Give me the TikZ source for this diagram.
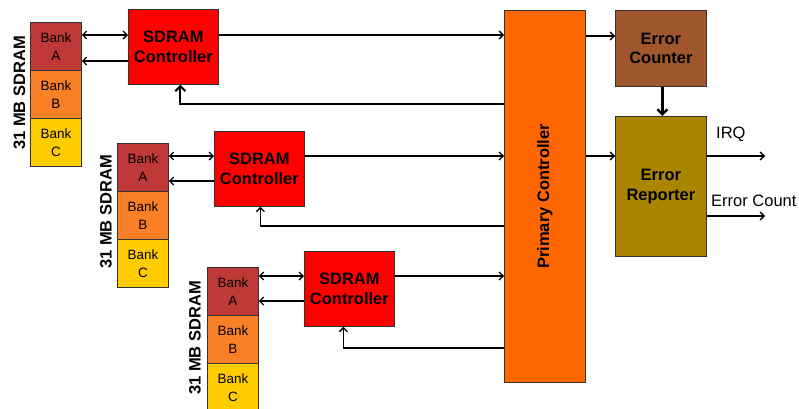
\documentclass[tikz,border=0pt]{standalone}
\usepackage{fontspec}
\setmainfont{Liberation Sans}
\usetikzlibrary{arrows.meta}
\definecolor{bankA}{RGB}{192,57,57}
\definecolor{bankB}{RGB}{250,128,40}
\definecolor{bankC}{RGB}{255,204,0}
\definecolor{ctrlred}{RGB}{255,0,0}
\definecolor{primcol}{RGB}{255,102,0}
\definecolor{errcol}{RGB}{160,87,45}
\definecolor{repcol}{RGB}{170,134,0}
\definecolor{edge}{RGB}{51,51,51}
\begin{document}
\begin{tikzpicture}[x=1pt,y=-1pt,
  bankbox/.style={draw=edge,line width=0.8pt,minimum width=51pt,minimum height=48pt,inner sep=0pt,anchor=north west,align=center,font=\fontsize{13.5}{18}\selectfont},
  ctrlbox/.style={draw=edge,line width=0.8pt,fill=ctrlred,minimum width=90pt,minimum height=75pt,inner sep=0pt,anchor=north west,align=center,font=\bfseries\fontsize{16.5}{19.5}\selectfont},
  blk/.style={draw=edge,line width=0.8pt,inner sep=0pt,anchor=north west,align=center,font=\bfseries\fontsize{16.5}{19.5}\selectfont},
  memlabel/.style={rotate=90,font=\bfseries\fontsize{16.5}{19.5}\selectfont},
  plain/.style={font=\fontsize{16.5}{19.5}\selectfont,anchor=west,inner sep=0pt},
  arr/.style={line width=1.3pt,-{Straight Barb[length=4pt,width=8pt]}},
  barr/.style={line width=1.3pt,{Straight Barb[length=4pt,width=8pt]}-{Straight Barb[length=4pt,width=8pt]}},
  tarr/.style={line width=2.4pt,-{Straight Barb[length=5pt,width=10pt]}},
  ln/.style={line width=1.3pt}]
\useasboundingbox (0,0) rectangle (799,408);
\fill[white] (0,0) rectangle (799,408);

% group 1
\node[bankbox,fill=bankA] (b1a) at (30,22) {Bank\\A};
\node[bankbox,fill=bankB] (b1b) at (30,70) {Bank\\B};
\node[bankbox,fill=bankC] (b1c) at (30,118) {Bank\\C};
\node[memlabel] (m1) at (19.5,93) {31 MB SDRAM};
\node[ctrlbox] (c1) at (128,9) {SDRAM\\Controller};

% group 2
\node[bankbox,fill=bankA] (b2a) at (117,143) {Bank\\A};
\node[bankbox,fill=bankB] (b2b) at (117,191) {Bank\\B};
\node[bankbox,fill=bankC] (b2c) at (117,239) {Bank\\C};
\node[memlabel] (m2) at (106,212) {31 MB SDRAM};
\node[ctrlbox] (c2) at (214,131) {SDRAM\\Controller};

% group 3
\node[bankbox,fill=bankA] (b3a) at (207,267) {Bank\\A};
\node[bankbox,fill=bankB] (b3b) at (207,315) {Bank\\B};
\node[bankbox,fill=bankC] (b3c) at (207,363) {Bank\\C};
\node[memlabel] (m3) at (195,338) {31 MB SDRAM};
\node[ctrlbox] (c3) at (304,251) {SDRAM\\Controller};

% primary and error blocks
\node[blk,fill=primcol,minimum width=81pt,minimum height=372pt] (pc) at (504,10) {};
\node[rotate=90,font=\bfseries\fontsize{16.5}{19.5}\selectfont] (pct) at (pc.center) {Primary Controller};
\node[blk,fill=errcol,minimum width=91pt,minimum height=76pt] (ec) at (615,10) {Error\\Counter};
\node[blk,fill=repcol,minimum width=91pt,minimum height=140pt] (er) at (615,116) {Error\\Reporter};

% group 1 connectors
\draw[barr] (b1a.east|-0,35) -- (c1.west|-0,35);
\draw[arr] (c1.west|-0,61) -- (b1a.east|-0,61);
\draw[arr] (c1.east|-0,35) -- (pc.west|-0,35);
\draw[line width=2pt,-{Straight Barb[length=5pt,width=10pt]}] (pc.west|-0,104) -| ([xshift=7pt]c1.south);

% group 2 connectors
\draw[barr] (b2a.east|-0,156) -- (c2.west|-0,156);
\draw[arr] (c2.west|-0,181) -- (b2a.east|-0,181);
\draw[arr] (c2.east|-0,156) -- (pc.west|-0,156);
\draw[arr] (pc.west|-0,226) -| ([xshift=1pt]c2.south);

% group 3 connectors
\draw[barr] (b3a.east|-0,276) -- (c3.west|-0,276);
\draw[arr] (c3.west|-0,301) -- (b3a.east|-0,301);
\draw[arr] (c3.east|-0,276) -- (pc.west|-0,276);
\draw[arr] (pc.west|-0,348) -| ([xshift=-6pt]c3.south);

% error connectors
\draw[arr] (pc.east|-0,36) -- (ec.west|-0,36);
\draw[arr] (pc.east|-0,156) -- (er.west|-0,156);
\draw[tarr] ([xshift=1.5pt]ec.south) -- ([xshift=1.5pt]er.north);
\coordinate (irq) at (765,156);
\coordinate (cnt) at (765,216);
\draw[arr] (er.east|-irq) -- (irq);
\draw[arr] (er.east|-cnt) -- (cnt);
\node[plain] (irqt) at (716,134) {IRQ};
\node[plain] (cntt) at (711,201) {Error Count};
\end{tikzpicture}
\end{document}
